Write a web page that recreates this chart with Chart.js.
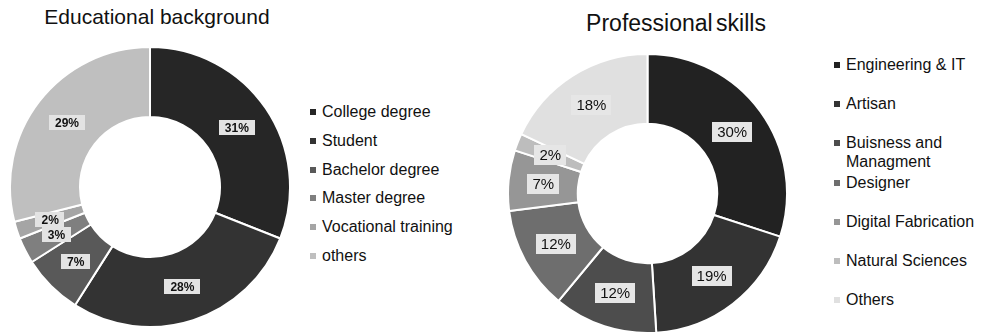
<!DOCTYPE html>
<html lang="en">
<head>
    <meta charset="UTF-8">
    <title>Educational background / Professional skills</title>
    <script src="https://cdn.jsdelivr.net/npm/chart.js"></script>
    <style>
        body { margin: 0; width: 994px; height: 333px; background: #fff; position: relative; overflow: hidden;
               font-family: "Liberation Sans", Arial, sans-serif; color: #111; }
        .title { position: absolute; font-size: 21px; white-space: nowrap; transform: translateX(-50%); }
        .box { position: absolute; }
        .legend-item { position: absolute; font-size: 16px; line-height: 19px; }
        .legend-item .mark { position: absolute; width: 6px; height: 6px; top: 7px; }
    </style>
</head>
<body>
    <div class="title" style="left:157px; top:5px;">Educational background</div>
    <div class="title" style="left:676px; top:10px; font-size:23px; word-spacing:-3px;">Professional skills</div>

    <div class="box" style="left:9px; top:46px; width:282px; height:282px;"><canvas id="eduChart"></canvas></div>
    <div class="box" style="left:507px; top:53px; width:281px; height:281px;"><canvas id="skillChart"></canvas></div>

    <div id="eduLegend"></div>
    <div id="skillLegend"></div>

    <script>
        // Educational background
        const eduLabels = ["College degree", "Student", "Bachelor degree", "Master degree", "Vocational training", "others"];
        const eduValues = [31, 28, 7, 3, 2, 29];
        const eduColors = ["#262626", "#333333", "#595959", "#7f7f7f", "#a5a5a5", "#bfbfbf"];

        // Professional skills
        const skillLabels = ["Engineering & IT", "Artisan", "Buisness and Managment", "Designer", "Digital Fabrication", "Natural Sciences", "Others"];
        const skillValues = [30, 19, 12, 12, 7, 2, 18];
        const skillColors = ["#222222", "#333333", "#4d4d4d", "#6e6e6e", "#969696", "#bdbdbd", "#e0e0e0"];

        // draws "NN%" in a grey box at the middle of each slice
        const sliceLabels = {
            id: 'sliceLabels',
            afterDatasetsDraw(chart, args, opts) {
                const ctx = chart.ctx;
                const meta = chart.getDatasetMeta(0);
                const data = chart.data.datasets[0].data;
                ctx.save();
                ctx.font = opts.font;
                ctx.textAlign = 'center';
                ctx.textBaseline = 'middle';
                meta.data.forEach((arc, i) => {
                    const p = arc.tooltipPosition();
                    const txt = data[i] + '%';
                    const w = ctx.measureText(txt).width + opts.padX * 2;
                    const h = opts.boxH;
                    ctx.fillStyle = opts.boxColor;
                    ctx.fillRect(Math.round(p.x - w / 2), Math.round(p.y - h / 2), Math.round(w), h);
                    ctx.fillStyle = '#111';
                    ctx.fillText(txt, p.x, p.y + 1);
                });
                ctx.restore();
            }
        };

        function makeDonut(id, labels, values, colors, labelOpts) {
            return new Chart(document.getElementById(id), {
                type: 'doughnut',
                data: {
                    labels: labels,
                    datasets: [{
                        data: values,
                        backgroundColor: colors,
                        borderColor: '#fff',
                        borderWidth: 2
                    }]
                },
                options: {
                    responsive: true,
                    maintainAspectRatio: false,
                    animation: false,
                    cutout: '50%',
                    layout: { padding: 0 },
                    plugins: {
                        legend: { display: false },
                        tooltip: { enabled: false },
                        sliceLabels: labelOpts
                    }
                },
                plugins: [sliceLabels]
            });
        }

        makeDonut('eduChart', eduLabels, eduValues, eduColors,
            { font: 'bold 12px "Liberation Sans", Arial', padX: 6, boxH: 15, boxColor: '#e3e3e3' });
        makeDonut('skillChart', skillLabels, skillValues, skillColors,
            { font: '15px "Liberation Sans", Arial', padX: 5, boxH: 20, boxColor: '#e6e6e6' });

        function buildLegend(el, labels, colors, x, y0, step, width) {
            const box = document.getElementById(el);
            labels.forEach((lab, i) => {
                const item = document.createElement('div');
                item.className = 'legend-item';
                item.style.left = (x + 12) + 'px';
                item.style.top = (y0 + i * step - 10) + 'px';
                item.style.width = width + 'px';
                item.textContent = lab;
                const mark = document.createElement('span');
                mark.className = 'mark';
                mark.style.left = '-12px';
                mark.style.background = colors[i];
                item.appendChild(mark);
                box.appendChild(item);
            });
        }

        buildLegend('eduLegend', eduLabels, eduColors, 310, 112, 28.8, 170);
        buildLegend('skillLegend', skillLabels, skillColors, 834, 65, 39.2, 146);
    </script>
</body>
</html>
